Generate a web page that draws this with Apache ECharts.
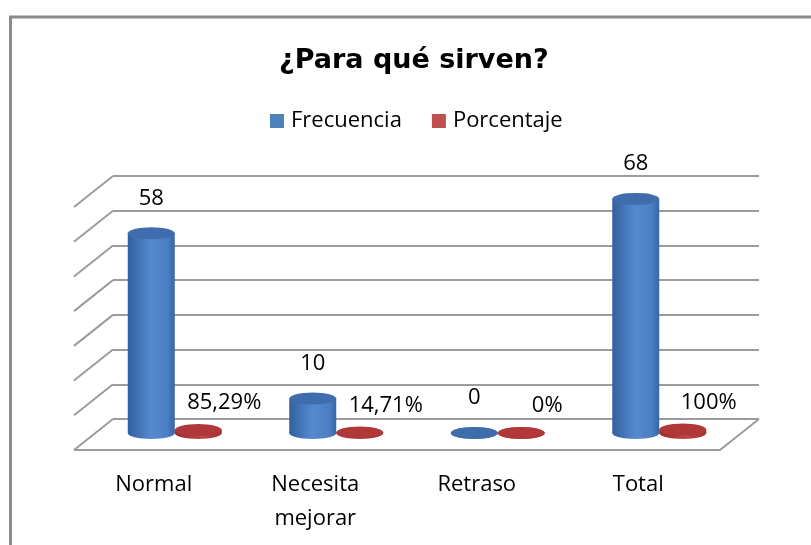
<!DOCTYPE html>
<html>
<head>
<meta charset="utf-8">
<script src="https://cdn.jsdelivr.net/npm/echarts@6/dist/echarts.min.js"></script>
<style>
  html, body { margin: 0; padding: 0; background: #fff; }
  #chart { width: 811px; height: 545px; }
</style>
</head>
<body>
<div id="chart"></div>
<script>
// data
const categories = ['Normal', 'Necesita\nmejorar', 'Retraso', 'Total']
const frecuencia = [58, 10, 0, 68]
const porcentaje = [0.8529, 0.1471, 0, 1]   // shown as 85,29% ...
const yMax = 70
const yStep = 10

// back wall position + depth of the fake 3d box
const wall = { left: 113, right: 52, top: 176, bottom: 126 }
const depth = { x: 39, y: 31 }

const font = '"Open Sans", sans-serif'

const pctText = v => (v * 100).toFixed(2).replace('.', ',').replace(',00', '') + '%'

const blueBody = new echarts.graphic.LinearGradient(0, 0, 1, 0, [
  { offset: 0, color: '#33609f' },
  { offset: 0.5, color: '#558ad0' },
  { offset: 0.85, color: '#4b7dc2' },
  { offset: 1, color: '#3865a6' }
])
const redBody = new echarts.graphic.LinearGradient(0, 0, 1, 0, [
  { offset: 0, color: '#9a2a2a' },
  { offset: 0.55, color: '#c24444' },
  { offset: 1, color: '#a33131' }
])

const chart = echarts.init(document.getElementById('chart'))

const option = {
  backgroundColor: '#fff',
  animation: false,
  title: {
    text: '¿Para qué sirven?',
    left: 279,
    top: 47,
    padding: 0,
    textStyle: { fontFamily: '"DejaVu Sans", sans-serif', fontWeight: 'bold', fontSize: 27, color: '#000' }
  },
  legend: {
    left: 270,
    top: 110,
    padding: 0,
    icon: 'rect',
    itemWidth: 14,
    itemHeight: 14,
    itemGap: 30,
    textStyle: { fontFamily: font, fontSize: 22, color: '#000', padding: [0, 0, 0, 2] },
    data: [
      { name: 'Frecuencia', itemStyle: { color: '#4f81bd' } },
      { name: 'Porcentaje', itemStyle: { color: '#c0504d' } }
    ]
  },
  grid: [
    // back wall, only for the grid lines
    { left: wall.left, right: wall.right, top: wall.top, bottom: wall.bottom },
    // plane where the cylinders stand
    { left: 94, right: 71, top: 192, bottom: 112 }
  ],
  xAxis: [
    { gridIndex: 0, type: 'category', data: categories, show: false },
    {
      gridIndex: 1,
      type: 'category',
      data: categories,
      axisLine: { show: false },
      axisTick: { show: false },
      axisLabel: {
        margin: 35,
        fontFamily: font,
        fontSize: 22,
        lineHeight: 34,
        color: '#000',
        padding: [0, 42, 0, 0]
      }
    }
  ],
  yAxis: [
    {
      gridIndex: 0,
      type: 'value',
      min: 0,
      max: yMax,
      interval: yStep,
      axisLine: { show: false },
      axisTick: { show: false },
      axisLabel: { show: false },
      splitLine: { lineStyle: { color: '#9c9c9c', width: 2 } }
    },
    { gridIndex: 1, type: 'value', min: 0, max: yMax, interval: yStep, show: false }
  ],
  series: [
    {
      name: 'Frecuencia',
      type: 'bar',
      xAxisIndex: 1,
      yAxisIndex: 1,
      barWidth: 47,
      barGap: '0%',
      data: frecuencia,
      itemStyle: { color: blueBody },
      label: {
        show: true,
        position: 'top',
        distance: 24,
        fontFamily: font,
        fontSize: 22,
        color: '#000'
      },
      z: 3
    },
    {
      name: 'Porcentaje',
      type: 'bar',
      xAxisIndex: 1,
      yAxisIndex: 1,
      barWidth: 47,
      barGap: '0%',
      data: porcentaje,
      itemStyle: { color: redBody },
      label: {
        show: true,
        position: 'top',
        distance: 16,
        offset: [26, 0],
        fontFamily: font,
        fontSize: 22,
        color: '#000',
        formatter: p => pctText(p.value)
      },
      z: 3
    },
    // cylinder caps (bottom + top ellipses)
    {
      name: 'frec-bottom',
      type: 'pictorialBar',
      xAxisIndex: 1,
      yAxisIndex: 1,
      symbol: 'circle',
      symbolSize: [47, 12],
      symbolOffset: ['-50%', '50%'],
      barGap: '-100%',
      data: frecuencia,
      itemStyle: { color: blueBody },
      z: 2
    },
    {
      name: 'frec-top',
      type: 'pictorialBar',
      xAxisIndex: 1,
      yAxisIndex: 1,
      symbol: 'circle',
      symbolSize: [47, 12],
      symbolPosition: 'end',
      symbolOffset: ['-50%', '-50%'],
      barGap: '-100%',
      data: frecuencia,
      itemStyle: { color: '#3f6cac' },
      z: 4
    },
    {
      name: 'pct-bottom',
      type: 'pictorialBar',
      xAxisIndex: 1,
      yAxisIndex: 1,
      symbol: 'circle',
      symbolSize: [47, 12],
      symbolOffset: ['50%', '50%'],
      barGap: '-100%',
      data: porcentaje,
      itemStyle: { color: redBody },
      z: 2
    },
    {
      name: 'pct-top',
      type: 'pictorialBar',
      xAxisIndex: 1,
      yAxisIndex: 1,
      symbol: 'circle',
      symbolSize: [47, 12],
      symbolPosition: 'end',
      symbolOffset: ['50%', '-50%'],
      barGap: '-100%',
      data: porcentaje,
      itemStyle: { color: '#b03838' },
      z: 4
    }
  ]
}

chart.setOption(option)

// left wall diagonals + floor outline, placed from the back wall axis
const lineStyle = { stroke: '#9c9c9c', lineWidth: 2 }
const elements = []
for (let v = 0; v <= yMax; v += yStep) {
  const y = chart.convertToPixel({ yAxisIndex: 0 }, v)
  elements.push({
    type: 'line',
    shape: { x1: wall.left, y1: y, x2: wall.left - depth.x, y2: y + depth.y },
    style: lineStyle,
    z: 1
  })
}
const floorY = chart.convertToPixel({ yAxisIndex: 0 }, 0)
const wallRight = 811 - wall.right
elements.push({
  type: 'polyline',
  shape: {
    points: [
      [wall.left - depth.x, floorY + depth.y],
      [wallRight - depth.x, floorY + depth.y],
      [wallRight, floorY]
    ]
  },
  style: Object.assign({ fill: null }, lineStyle),
  z: 1
})
// outer frame of the chart area
elements.push({
  type: 'rect',
  shape: { x: 10.5, y: 17, width: 900, height: 600 },
  style: { fill: null, stroke: '#8a8a8a', lineWidth: 3 },
  z: 0
})

chart.setOption({ graphic: { elements } })
</script>
</body>
</html>
